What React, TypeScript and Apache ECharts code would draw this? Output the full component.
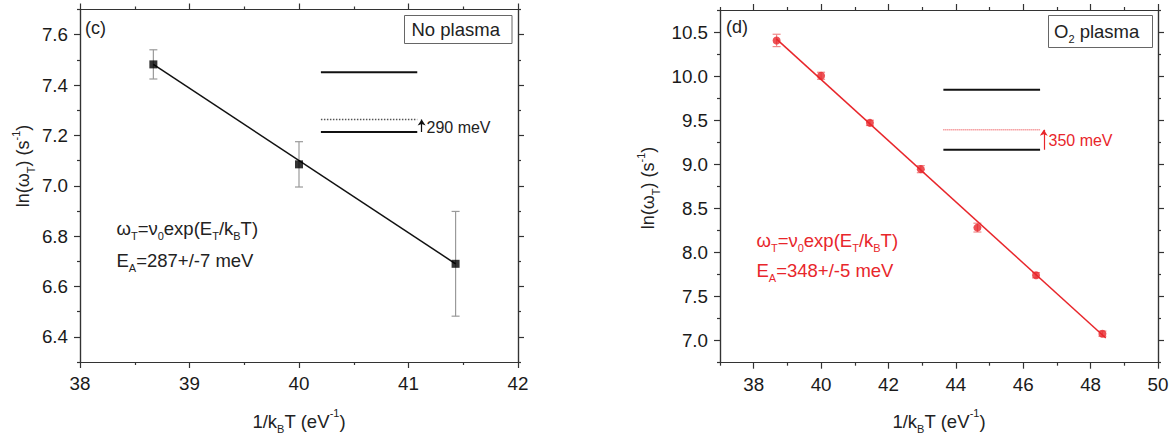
import React, { useEffect, useRef } from 'react';
import * as echarts from 'echarts';

const FONT = '"Liberation Sans", Arial, Helvetica, sans-serif';
const RED = '#e8262b';

// ---- panel (c): No plasma ----
const leftX = [38.67, 40.0, 41.43];
const leftY = [7.482, 7.085, 6.69];
const leftErr = [0.058, 0.09, 0.208];
const leftFitX = [38.67, 41.43];
const leftFitY = [7.482, 6.69];
const leftLevelX = [40.2, 41.08];
const leftUpperLevel = 7.451;
const leftTrapLevel = 7.263;
const leftLowerLevel = 7.213;
const leftArrowX = 41.12;
const leftXTicks = [38, 39, 40, 41, 42];
const leftXMinor = [38.5, 39.5, 40.5, 41.5];
const leftYTicks = [6.4, 6.6, 6.8, 7.0, 7.2, 7.4, 7.6];
const leftYMinor = [6.3, 6.5, 6.7, 6.9, 7.1, 7.3, 7.5, 7.7];

// ---- panel (d): O2 plasma ----
const rightX = [38.68, 40.0, 41.45, 42.96, 44.64, 46.38, 48.35];
const rightY = [10.405, 10.004, 9.47, 8.945, 8.282, 7.742, 7.079];
const rightErr = [0.07, 0.04, 0.03, 0.04, 0.05, 0.03, 0.03];
const rightFitX = [38.68, 48.45];
const rightFitY = [10.42, 7.03];
const rightLevelX = [43.63, 46.5];
const rightUpperLevel = 9.845;
const rightTrapLevel = 9.391;
const rightLowerLevel = 9.164;
const rightArrowX = 46.61;
const rightXTicks = [38, 40, 42, 44, 46, 48, 50];
const rightXMinor = [37, 39, 41, 43, 45, 47, 49];
const rightYTicks = [7.0, 7.5, 8.0, 8.5, 9.0, 9.5, 10.0, 10.5];
const rightYMinor = [6.75, 7.25, 7.75, 8.25, 8.75, 9.25, 9.75, 10.25, 10.75];

const AX = '#333';

function makeAxes(
  grid: number,
  side: string,
  min: number,
  max: number,
  majors: number[],
  minors: number[],
  labels: boolean,
  fmt: (v: number) => string
) {
  const base: any = {
    type: 'value',
    gridIndex: grid,
    position: side,
    min,
    max,
    splitLine: { show: false },
    axisLine: { show: true, onZero: false, lineStyle: { color: AX, width: 1.2 } },
  };
  const major = {
    ...base,
    axisTick: { show: true, inside: false, length: 6, customValues: majors, lineStyle: { color: AX, width: 1.2 } },
    axisLabel: labels
      ? { show: true, customValues: majors, formatter: fmt, margin: 12, fontSize: 18.8, color: '#1a1a1a', fontFamily: FONT }
      : { show: false },
  };
  const minor = {
    ...base,
    axisTick: { show: true, inside: false, length: 3, customValues: minors, lineStyle: { color: AX, width: 1.2 } },
    axisLabel: { show: false },
  };
  return [major, minor];
}

function rich(size: number, color: string) {
  const s = Math.round(size * 0.62);
  return {
    n: { fontSize: size, fill: color, color, fontFamily: FONT, lineHeight: size + 8 },
    b: { fontSize: s, fill: color, color, fontFamily: FONT, lineHeight: s + 1, verticalAlign: 'bottom' },
    p: { fontSize: s, fill: color, color, fontFamily: FONT, lineHeight: s + 1, verticalAlign: 'top' },
  };
}

function txt(x: number, y: number, text: string, size: number, color: string, align = 'left', rotation = 0) {
  return {
    type: 'text',
    x,
    y,
    rotation,
    z: 100,
    style: {
      text,
      rich: rich(size, color),
      align,
      verticalAlign: 'middle',
      fontFamily: FONT,
      fontSize: size,
      fill: color,
    },
  };
}

function errorSeries(xs: number[], ys: number[], errs: number[], xi: number, yi: number, color: string) {
  return {
    type: 'custom',
    xAxisIndex: xi,
    yAxisIndex: yi,
    z: 1,
    encode: { x: 0, y: [1, 2] },
    data: xs.map((x, i) => [x, ys[i] - errs[i], ys[i] + errs[i]]),
    renderItem: (_p: any, api: any) => {
      const x = api.value(0);
      const a = api.coord([x, api.value(2)]);
      const b = api.coord([x, api.value(1)]);
      const w = 4;
      const style = { stroke: color, lineWidth: 1.2 };
      return {
        type: 'group',
        children: [
          { type: 'line', shape: { x1: a[0], y1: a[1], x2: b[0], y2: b[1] }, style },
          { type: 'line', shape: { x1: a[0] - w, y1: a[1], x2: a[0] + w, y2: a[1] }, style },
          { type: 'line', shape: { x1: b[0] - w, y1: b[1], x2: b[0] + w, y2: b[1] }, style },
        ],
      };
    },
  };
}

function levelSeries(xs: number[], y: number, xi: number, yi: number, color: string, width: number, type: string) {
  return {
    type: 'line',
    xAxisIndex: xi,
    yAxisIndex: yi,
    symbol: 'none',
    silent: true,
    lineStyle: { color, width, type },
    data: xs.map((x) => [x, y]),
  };
}

function arrowSeries(x: number, y0: number, y1: number, xi: number, yi: number, color: string) {
  return {
    type: 'lines',
    coordinateSystem: 'cartesian2d',
    xAxisIndex: xi,
    yAxisIndex: yi,
    symbol: ['none', 'arrow'],
    symbolSize: 6,
    lineStyle: { color, width: 1.2, opacity: 1 },
    data: [{ coords: [[x, y0], [x, y1]] }],
  };
}

export default function App() {
  const ref = useRef<HTMLDivElement>(null);
  useEffect(() => {
    if (!ref.current) return;
    const chart = echarts.init(ref.current, undefined, { renderer: 'svg' });
    const fx = (v: number) => String(Math.round(v));
    const fy = (v: number) => v.toFixed(1);

    const xAxis = [
      ...makeAxes(0, 'bottom', 38, 42, leftXTicks, leftXMinor, true, fx),
      ...makeAxes(0, 'top', 38, 42, leftXTicks, leftXMinor, false, fx),
      ...makeAxes(1, 'bottom', 37, 50, rightXTicks, rightXMinor, true, fx),
      ...makeAxes(1, 'top', 37, 50, rightXTicks, rightXMinor, false, fx),
    ];
    const yAxis = [
      ...makeAxes(0, 'left', 6.3, 7.7, leftYTicks, leftYMinor, true, fy),
      ...makeAxes(0, 'right', 6.3, 7.7, leftYTicks, leftYMinor, false, fy),
      ...makeAxes(1, 'left', 6.75, 10.75, rightYTicks, rightYMinor, true, fy),
      ...makeAxes(1, 'right', 6.75, 10.75, rightYTicks, rightYMinor, false, fy),
    ];
    const LX = 0, LY = 0, RX = 4, RY = 4;

    const option: any = {
      animation: false,
      backgroundColor: '#fff',
      textStyle: { fontFamily: FONT },
      grid: [
        { left: 80, top: 9.5, width: 438, height: 352.5 },
        { left: 720, top: 10, width: 438, height: 352.7 },
      ],
      xAxis,
      yAxis,
      series: [
        errorSeries(leftX, leftY, leftErr, LX, LY, '#9a9a9a'),
        {
          type: 'line', xAxisIndex: LX, yAxisIndex: LY, symbol: 'none', z: 2,
          lineStyle: { color: '#111', width: 1.5 },
          data: leftFitX.map((x, i) => [x, leftFitY[i]]),
        },
        {
          type: 'scatter', xAxisIndex: LX, yAxisIndex: LY, symbol: 'rect', symbolSize: 8, z: 3,
          itemStyle: { color: '#000' },
          data: leftX.map((x, i) => [x, leftY[i]]),
        },
        levelSeries(leftLevelX, leftUpperLevel, LX, LY, '#111', 2, 'solid'),
        levelSeries(leftLevelX, leftTrapLevel, LX, LY, '#555', 1.5, 'dotted'),
        levelSeries(leftLevelX, leftLowerLevel, LX, LY, '#111', 2, 'solid'),
        arrowSeries(leftArrowX, leftLowerLevel, leftTrapLevel, LX, LY, '#111'),

        errorSeries(rightX, rightY, rightErr, RX, RY, '#f08a8a'),
        {
          type: 'line', xAxisIndex: RX, yAxisIndex: RY, symbol: 'none', z: 2,
          lineStyle: { color: RED, width: 1.5 },
          data: rightFitX.map((x, i) => [x, rightFitY[i]]),
        },
        {
          type: 'scatter', xAxisIndex: RX, yAxisIndex: RY, symbol: 'circle', symbolSize: 8, z: 3,
          itemStyle: { color: RED },
          data: rightX.map((x, i) => [x, rightY[i]]),
        },
        levelSeries(rightLevelX, rightUpperLevel, RX, RY, '#111', 2, 'solid'),
        levelSeries(rightLevelX, rightTrapLevel, RX, RY, RED, 1, 'dotted'),
        levelSeries(rightLevelX, rightLowerLevel, RX, RY, '#111', 2, 'solid'),
        arrowSeries(rightArrowX, rightLowerLevel, rightTrapLevel, RX, RY, RED),
      ],
      graphic: [
        // panel (c)
        txt(85, 28, '{n|(c)}', 18, '#222'),
        { type: 'rect', z: 99, shape: { x: 404.5, y: 15.5, width: 107.5, height: 28 }, style: { fill: '#fff', stroke: '#666', lineWidth: 1 } },
        txt(411.5, 29.5, '{n|No plasma}', 18.5, '#222'),
        txt(426.5, 127.5, '{n|290 meV}', 16, '#222'),
        txt(116.5, 228, '{n|ω}{b|T}{n|=ν}{b|0}{n|exp(E}{b|T}{n|/k}{b|B}{n|T)}', 18.5, '#222'),
        txt(116.5, 260, '{n|E}{b|A}{n|=287+/-7 meV}', 18.5, '#222'),
        txt(299, 421, '{n|1/k}{b|B}{n|T (eV}{p|-1}{n|)}', 18.5, '#222', 'center'),
        txt(23, 166, '{n|ln(ω}{b|T}{n|) (s}{p|-1}{n|)}', 18, '#222', 'center', Math.PI / 2),

        // panel (d)
        txt(726, 27, '{n|(d)}', 18, '#222'),
        { type: 'rect', z: 99, shape: { x: 1048.5, y: 15.5, width: 104, height: 32 }, style: { fill: '#fff', stroke: '#666', lineWidth: 1 } },
        txt(1054, 31, '{n|O}{b|2}{n| plasma}', 18.5, '#222'),
        txt(1048.5, 140, '{n|350 meV}', 16, RED),
        txt(756.5, 240, '{n|ω}{b|T}{n|=ν}{b|0}{n|exp(E}{b|T}{n|/k}{b|B}{n|T)}', 18.5, RED),
        txt(756.5, 270, '{n|E}{b|A}{n|=348+/-5 meV}', 18.5, RED),
        txt(939, 421, '{n|1/k}{b|B}{n|T (eV}{p|-1}{n|)}', 18.5, '#222', 'center'),
        txt(648, 188, '{n|ln(ω}{b|T}{n|) (s}{p|-1}{n|)}', 18, '#222', 'center', Math.PI / 2),
      ],
    };
    chart.setOption(option);
    return () => chart.dispose();
  }, []);
  return (
    <div
      ref={ref}
      style={{ position: 'fixed', left: 0, top: 0, width: 1176, height: 437, background: '#fff' }}
    />
  );
}
